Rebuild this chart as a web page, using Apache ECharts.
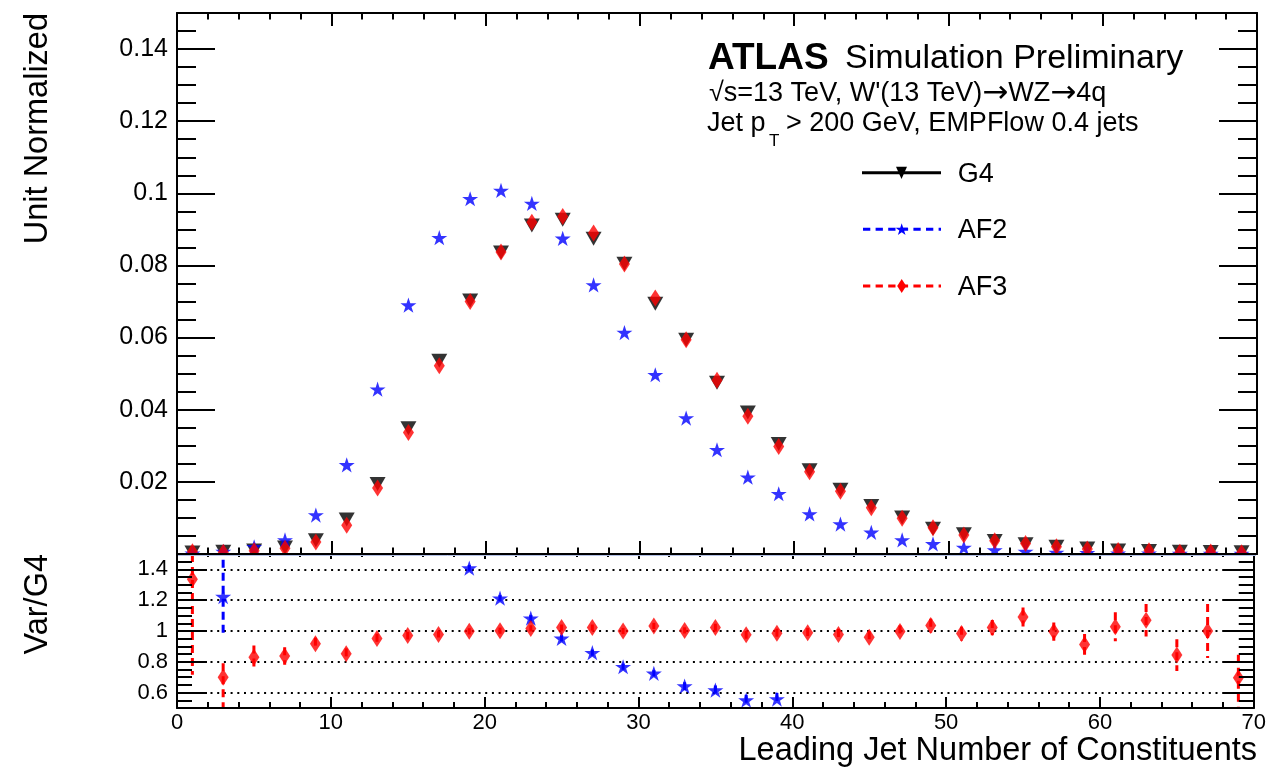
<!DOCTYPE html>
<html><head><meta charset="utf-8">
<script src="https://cdn.jsdelivr.net/npm/echarts@6/dist/echarts.min.js"></script>
<style>html,body{margin:0;padding:0;background:#fff}#c{width:1269px;height:770px}</style>
</head><body><div id="c"></div><script>
// ---- data ----
const binCenters = [1,3,5,7,9,11,13,15,17,19,21,23,25,27,29,31,33,35,37,39,41,43,45,47,49,51,53,55,57,59,61,63,65,67,69];
const g4  = [0.0004,0.0006,0.0010,0.0018,0.0038,0.0096,0.0194,0.0349,0.0536,0.0703,0.0836,0.0911,0.0927,0.0874,0.0805,0.0694,0.0594,0.0475,0.0392,0.0305,0.0232,0.0178,0.0133,0.0101,0.0070,0.0055,0.0036,0.0027,0.0020,0.0015,0.0010,0.0008,0.0006,0.00055,0.0005];
const af2 = [0.0002,0.0007,0.0020,0.0039,0.0108,0.0247,0.0457,0.0690,0.0877,0.0985,0.1008,0.0972,0.0875,0.0746,0.0614,0.0497,0.0377,0.0289,0.0213,0.0167,0.0111,0.0083,0.0060,0.0039,0.0028,0.0018,0.0011,0.0007,0.0004,0.0003,0.0002,0.0002,0.0001,0.0001,0.0001];
const af3 = [0.0006,0.0005,0.0009,0.0016,0.0033,0.0080,0.0183,0.0337,0.0522,0.0700,0.0837,0.0920,0.0936,0.0890,0.0804,0.0710,0.0594,0.0482,0.0382,0.0298,0.0228,0.0174,0.0128,0.0099,0.0073,0.0053,0.0037,0.0029,0.0020,0.0014,0.0010,0.0009,0.0005,0.00055,0.00035];
// ratio panel (Var/G4); null = outside the displayed range
const ratioAF2 = [null,1.223,null,null,null,null,null,null,null,1.408,1.213,1.083,0.952,0.859,0.768,0.725,0.642,0.616,0.551,0.558,null,null,null,null,null,null,null,null,null,null,null,null,null,null,null];
const ratioAF2Err = [0,0.24,0,0,0,0,0,0,0,0.02,0.02,0.02,0.02,0.02,0.02,0.02,0.025,0.03,0.035,0.04,0,0,0,0,0,0,0,0,0,0,0,0,0,0,0];
const ratioAF3 = [1.336,0.700,0.830,0.838,0.917,0.852,0.952,0.970,0.978,0.998,1.002,1.017,1.022,1.022,1.000,1.033,1.004,1.022,0.975,0.985,0.989,0.978,0.959,0.996,1.035,0.983,1.022,1.091,0.996,0.913,1.028,1.070,0.844,1.000,0.696];
const ratioAF3ErrUp   = [0.60,0.09,0.076,0.057,0.04,0.035,0.03,0.025,0.02,0.02,0.02,0.02,0.02,0.02,0.02,0.02,0.02,0.025,0.025,0.03,0.03,0.035,0.04,0.04,0.045,0.045,0.05,0.062,0.06,0.067,0.094,0.106,0.103,0.176,0.15];
const ratioAF3ErrDown = [0.62,0.25,0.076,0.057,0.04,0.035,0.03,0.025,0.02,0.02,0.02,0.02,0.02,0.02,0.02,0.02,0.02,0.025,0.025,0.03,0.03,0.035,0.04,0.04,0.045,0.045,0.05,0.062,0.06,0.067,0.094,0.106,0.103,0.176,0.25];
const ratioRefLines = [0.6,0.8,1,1.2,1.4];

// ---- rendering ----
const FONT = '"Liberation Sans", Arial, Helvetica, sans-serif';
const STAR = 'path://M0,-10L2.245,-3.09L9.511,-3.09L3.633,1.18L5.878,8.09L0,3.82L-5.878,8.09L-3.633,1.18L-9.511,-3.09L-2.245,-3.09Z';
const pairs = (ys) => binCenters.map((x,i)=>[x, ys[i]]).filter(p=>p[1]!==null);
const errData = (ys, up, dn) => binCenters.map((x,i)=> ys[i]===null ? null : [x, ys[i]-dn[i], ys[i]+up[i]]).filter(Boolean);

function xAx(gridIndex, position, tickLen, minorLen, showLabel){
  return {type:'value', gridIndex, position, min:0, max:70, interval:10, z:20,
    axisLine:{show:true, onZero:false, lineStyle:{color:'#000', width:2}},
    axisTick:{show:true, inside:true, length:tickLen, lineStyle:{color:'#000', width:2}},
    minorTick:{show:true, splitNumber:5, length:minorLen, lineStyle:{color:'#000', width:2}},
    axisLabel:{show:showLabel, color:'#000', fontSize:22, fontFamily:FONT, margin:4},
    splitLine:{show:false}, minorSplitLine:{show:false}};
}
function yAx(gridIndex, position, min, max, len, lineShow, labelShow, fs, extra){
  return Object.assign({type:'value', gridIndex, position, min, max, z:20,
    axisLine:{show:lineShow, onZero:false, lineStyle:{color:'#000', width:2}},
    axisTick:{show:true, inside:true, length:len, lineStyle:{color:'#000', width:2}},
    axisLabel:{show:labelShow, color:'#000', fontSize:fs, fontFamily:FONT, margin:9, showMinLabel:false, showMaxLabel:false,
      formatter:(v)=> (Math.abs(v-min)<1e-9 || Math.abs(v-max)<1e-9) ? '' : String(+v.toFixed(3))},
    splitLine:{show:false}}, extra);
}
function errBar(color){
  return function(params, api){
    const x = api.value(0), lo = api.value(1), hi = api.value(2);
    const a = api.coord([x, lo]), b = api.coord([x, hi]);
    const cs = params.coordSys;
    const yb = Math.min(a[1], cs.y + cs.height), yt = Math.max(b[1], cs.y);
    if (yb <= yt) return null;
    return {type:'line', shape:{x1:a[0], y1:yt, x2:a[0], y2:yb},
      style:{stroke:color, lineWidth:3, lineDash:[8,5]}};
  };
}
function starPts(cx, cy, R){
  const pts = [];
  for (let k=0;k<10;k++){ const r = k%2 ? R*0.382 : R; const a = -Math.PI/2 + k*Math.PI/5; pts.push([cx + r*Math.cos(a), cy + r*Math.sin(a)]); }
  return pts;
}
const txt = (x,y,text,fs,extra) => Object.assign({type:'text', x, y, z:30, silent:true,
  style:Object.assign({text, fontSize:fs, fontFamily:FONT, fill:'#000', verticalAlign:'middle'}, extra||{})});

const chart = echarts.init(document.getElementById('c'), null, {renderer:'canvas'});
chart.setOption({
  animation:false,
  backgroundColor:'#fff',
  grid:[{left:177, right:12, top:13, height:541}, {left:177, right:12, top:554, height:154}],
  xAxis:[xAx(0,'bottom',13,6.5,false), xAx(0,'top',13,6.5,false), xAx(1,'bottom',11,6,true), xAx(1,'top',5,3,false)],
  yAxis:[
    yAx(0,'left',0,0.15,19,true,false,25,{interval:0.005}),
    yAx(0,'left',0,0.15,38,false,true,25,{interval:0.02}),
    yAx(0,'right',0,0.15,19,true,false,25,{interval:0.005}),
    yAx(0,'right',0,0.15,38,false,false,25,{interval:0.02}),
    yAx(1,'left',0.5,1.5,15,true,false,22,{interval:0.05}),
    yAx(1,'left',0.5,1.5,30,false,true,22,{splitNumber:5}),
    yAx(1,'right',0.5,1.5,15,true,false,22,{interval:0.05}),
    yAx(1,'right',0.5,1.5,30,false,false,22,{splitNumber:5})
  ],
  series:[
    {name:'G4', type:'scatter', xAxisIndex:0, yAxisIndex:0, data:pairs(g4), symbol:'triangle', symbolRotate:180, symbolSize:[16,14], itemStyle:{color:'#000'}, z:2},
    {name:'AF2', type:'scatter', xAxisIndex:0, yAxisIndex:0, data:pairs(af2), symbol:STAR, symbolSize:[16,15.2], itemStyle:{color:'#0000ff'}, z:3},
    {name:'AF3', type:'scatter', xAxisIndex:0, yAxisIndex:0, data:pairs(af3), symbol:'diamond', symbolSize:[11,17], itemStyle:{color:'#ff0000'}, z:4},
    {name:'ref', type:'scatter', xAxisIndex:2, yAxisIndex:4, data:[], z:9,
      markLine:{silent:true, symbol:'none', label:{show:false}, animation:false,
        lineStyle:{color:'#000', width:2, type:[2,4.7]}, emphasis:{disabled:true},
        data:ratioRefLines.map(v=>({yAxis:v}))}},
    {name:'AF2 err', type:'custom', xAxisIndex:2, yAxisIndex:4, data:errData(ratioAF2, ratioAF2Err, ratioAF2Err), renderItem:errBar('#0000ff'), z:10},
    {name:'AF3 err', type:'custom', xAxisIndex:2, yAxisIndex:4, data:errData(ratioAF3, ratioAF3ErrUp, ratioAF3ErrDown), renderItem:errBar('#ff0000'), z:10},
    {name:'AF2 ratio', type:'scatter', xAxisIndex:2, yAxisIndex:4, data:pairs(ratioAF2), symbol:STAR, symbolSize:[16,15.2], itemStyle:{color:'#0000ff'}, z:11},
    {name:'AF3 ratio', type:'scatter', xAxisIndex:2, yAxisIndex:4, data:pairs(ratioAF3), symbol:'diamond', symbolSize:[11,17], itemStyle:{color:'#ff0000'}, z:12}
  ],
  graphic:[
    {type:'rect', shape:{x:178, y:555, width:1078, height:8}, style:{fill:'#fff'}, z:5, silent:true},
    {type:'line', shape:{x1:178, y1:555.5, x2:1256, y2:555.5}, style:{stroke:'#b3c1e6', lineWidth:1}, z:21, silent:true},
    txt(708, 58.5, 'ATLAS', 37, {fontWeight:'bold'}),
    txt(845, 58.5, 'Simulation Preliminary', 34),
    txt(709, 93.5, "√s=13 TeV, W'(13 TeV){a|→}WZ{a|→}4q", 27, {rich:{a:{fontFamily:'"DejaVu Sans", sans-serif', fontSize:31, fill:'#000'}}}),
    txt(707, 123.5, 'Jet p', 27),
    txt(769, 141, 'T', 17),
    txt(786, 123.5, '> 200 GeV, EMPFlow 0.4 jets', 27),
    // legend
    {type:'line', z:30, shape:{x1:862, y1:172.7, x2:941, y2:172.7}, style:{stroke:'#000', lineWidth:3}},
    {type:'polygon', z:31, shape:{points:[[896,166.7],[907,166.7],[901.5,179]]}, style:{fill:'#000'}},
    {type:'line', z:30, shape:{x1:863, y1:229.3, x2:941, y2:229.3}, style:{stroke:'#0000ff', lineWidth:3, lineDash:[7.3,5.3]}},
    {type:'polygon', z:31, shape:{points:starPts(901.7,229.8,6.5)}, style:{fill:'#0000ff'}},
    {type:'line', z:30, shape:{x1:863, y1:286, x2:941, y2:286}, style:{stroke:'#ff0000', lineWidth:3, lineDash:[7.3,5.3]}},
    {type:'polygon', z:31, shape:{points:[[901.7,279],[906.2,286],[901.7,293],[897.2,286]]}, style:{fill:'#ff0000'}},
    txt(957.7, 174.3, 'G4', 27),
    txt(957.7, 231, 'AF2', 27),
    txt(957.7, 287.7, 'AF3', 27),
    // axis titles
    Object.assign(txt(38.5, 13, 'Unit Normalized', 32.5, {align:'right'}), {rotation:Math.PI/2}),
    Object.assign(txt(38.5, 554, 'Var/G4', 32.5, {align:'right'}), {rotation:Math.PI/2}),
    txt(1257, 751, 'Leading Jet Number of Constituents', 32.5, {align:'right'})
  ]
});
</script></body></html>
